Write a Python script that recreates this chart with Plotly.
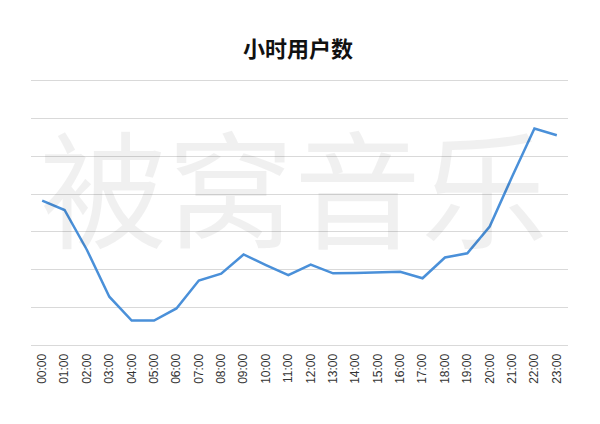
import plotly.graph_objects as go

hours = ["00:00", "01:00", "02:00", "03:00", "04:00", "05:00", "06:00", "07:00",
         "08:00", "09:00", "10:00", "11:00", "12:00", "13:00", "14:00", "15:00",
         "16:00", "17:00", "18:00", "19:00", "20:00", "21:00", "22:00", "23:00"]
users = [3.83, 3.58, 2.52, 1.28, 0.65, 0.65, 0.97, 1.71,
         1.89, 2.40, 2.12, 1.85, 2.13, 1.90, 1.91, 1.93,
         1.94, 1.77, 2.32, 2.43, 3.14, 4.46, 5.74, 5.56]
title_text = "小时用户数"
watermark = "被窝音乐"

fig = go.Figure()
fig.add_trace(go.Scatter(
    x=hours, y=users, mode="lines",
    line=dict(color="#4a90d9", width=2.5),
    hoverinfo="x+y", showlegend=False,
))

fig.add_annotation(
    text=watermark, xref="paper", yref="paper", x=0.49, y=0.611,
    showarrow=False, font=dict(family="Noto Sans CJK SC", size=127, color="rgba(0,0,0,0.06)"),
)

# page body has an 8px margin; size/margins compensate for it
fig.update_layout(
    width=592, height=416,
    margin=dict(l=23, r=32, t=73, b=79),
    paper_bgcolor="white", plot_bgcolor="white",
    title=dict(text="<b>" + title_text + "</b>", x=0.49, xanchor="center", y=0.9, yanchor="middle",
               font=dict(family="Noto Sans CJK SC", size=22, color="#111111")),
    xaxis=dict(type="category", range=[-0.5, 23.5], showgrid=False, zeroline=False,
               showline=True, linecolor="#d9d9d9", linewidth=1, mirror=True,
               tickangle=-90, ticks="outside", ticklen=3, tickcolor="rgba(0,0,0,0)",
               tickfont=dict(family="Liberation Sans", size=12, color="#333333")),
    yaxis=dict(range=[0, 7], tickvals=[0, 1, 2, 3, 4, 5, 6, 7], showticklabels=False,
               showgrid=True, gridcolor="#d9d9d9", gridwidth=1, zeroline=False, showline=False, ticks=""),
)

fig.write_html("out.html")
